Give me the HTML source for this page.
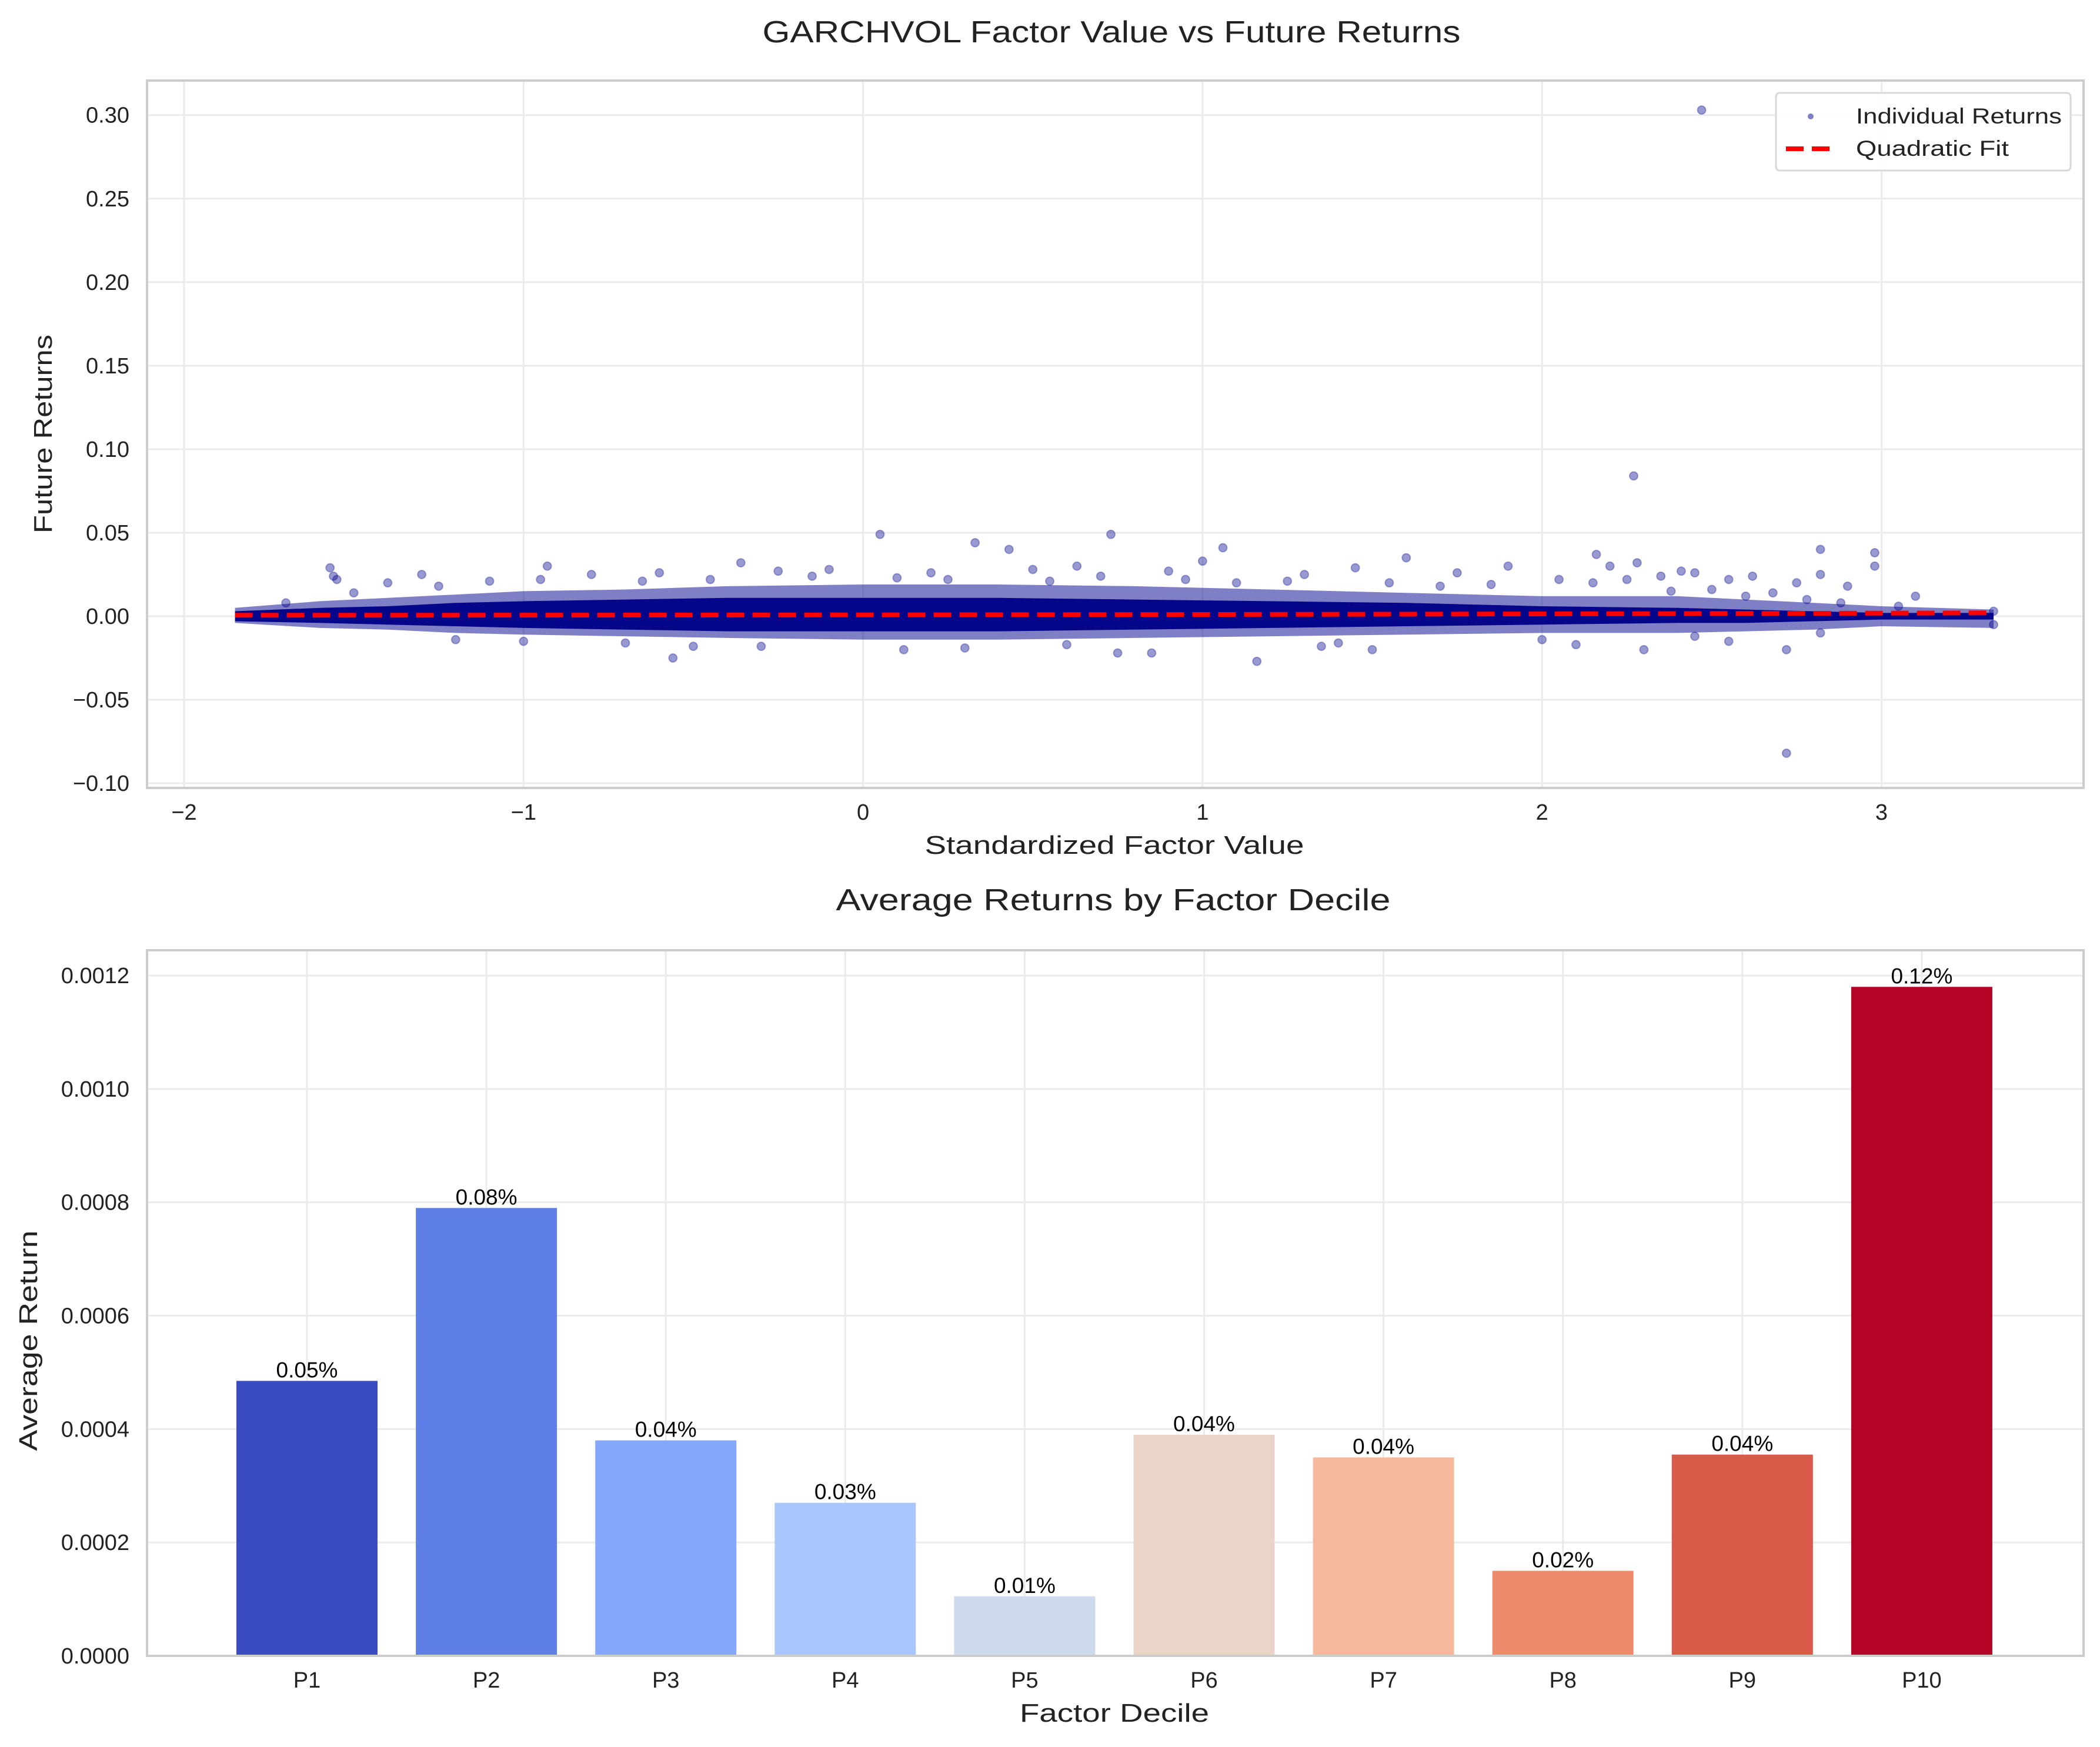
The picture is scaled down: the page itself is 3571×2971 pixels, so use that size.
<!DOCTYPE html>
<html><head><meta charset="utf-8"><style>
html,body{margin:0;padding:0;background:#fff;}
svg{display:block;font-family:"Liberation Sans",sans-serif;}
</style></head><body>
<svg id="chart" width="3571" height="2971" viewBox="0 0 3571 2971" xmlns="http://www.w3.org/2000/svg">
<text x="1890" y="72" font-size="52" fill="#222" text-anchor="middle" textLength="1187" lengthAdjust="spacingAndGlyphs">GARCHVOL Factor Value vs Future Returns</text>
<text x="1893" y="1548" font-size="52" fill="#222" text-anchor="middle" textLength="943" lengthAdjust="spacingAndGlyphs">Average Returns by Factor Decile</text>
<g id="topPanel"></g>
<g id="botPanel"></g>
</svg>
<script>
// ---- scatter data ----
const bandX = [-1.85,-1.6,-1.4,-1.2,-1.0,-0.7,-0.4,0,0.4,0.8,1.2,1.6,2.0,2.4,2.6,2.8,3.0,3.33];
const coreHi = [0.003,0.005,0.006,0.008,0.009,0.010,0.011,0.011,0.011,0.010,0.009,0.008,0.006,0.005,0.004,0.003,0.002,0.002];
const coreLo = [-0.003,-0.004,-0.005,-0.006,-0.007,-0.008,-0.009,-0.009,-0.009,-0.008,-0.007,-0.006,-0.005,-0.004,-0.004,-0.003,-0.002,-0.002];
const fringeHi = [0.005,0.009,0.011,0.013,0.015,0.016,0.018,0.019,0.019,0.018,0.016,0.014,0.012,0.012,0.010,0.008,0.006,0.004];
const fringeLo = [-0.004,-0.007,-0.008,-0.010,-0.011,-0.012,-0.013,-0.014,-0.014,-0.013,-0.012,-0.011,-0.010,-0.010,-0.009,-0.008,-0.006,-0.007];
const ptX = [2.47,2.27,2.72,0.05,0.73,0.33,1.06,2.82,2.98,2.16,-0.56,1.16,-1.57,-0.93,-0.36,1.6,2.28,2.41,-1.56,-1.55,-1.4,-1.3,-1.1,-0.8,-0.6,-0.25,-0.1,0.2,0.43,0.5,0.63,0.9,1.0,1.3,1.45,1.75,1.9,2.05,2.2,2.35,2.45,2.55,2.62,2.68,2.75,2.82,2.9,2.98,3.1,3.33,3.33,2.82,2.72,2.55,-0.5,0.12,0.85,1.5,2.1,-1.2,-0.7,0.3,0.75,1.35,2.0,2.3,
 -1.7,-1.5,-1.25,-0.95,-0.65,-0.45,-0.15,0.1,0.25,0.55,0.7,0.95,1.1,1.25,1.55,1.7,1.85,2.15,2.25,2.38,2.5,2.6,2.78,2.88,3.05,-1.0,-0.3,0.6,1.4,2.45];
const ptY = [0.303,0.084,-0.082,0.049,0.049,0.044,0.041,0.040,0.038,0.037,-0.025,-0.027,0.029,0.030,0.032,0.035,0.032,0.027,0.024,0.022,0.020,0.025,0.021,0.025,0.026,0.027,0.028,0.026,0.040,0.028,0.030,0.027,0.033,0.025,0.029,0.026,0.030,0.022,0.030,0.024,0.026,0.022,0.024,0.014,0.020,0.025,0.018,0.030,0.012,-0.005,0.003,-0.010,-0.020,-0.015,-0.018,-0.020,-0.022,-0.020,-0.017,-0.014,-0.016,-0.019,-0.022,-0.018,-0.014,-0.020,
 0.008,0.014,0.018,0.022,0.021,0.022,0.024,0.023,0.022,0.021,0.024,0.022,0.020,0.021,0.020,0.018,0.019,0.020,0.022,0.015,0.016,0.012,0.010,0.008,0.006,-0.015,-0.018,-0.017,-0.016,-0.012];
const fitCoef = [0.0008,0.0002,0.00005];
const fitRange = [-1.85,3.33];
const xTicks = [-2,-1,0,1,2,3];
const xTickLabels = ["\u22122","\u22121","0","1","2","3"];
const yTicks = [-0.10,-0.05,0,0.05,0.10,0.15,0.20,0.25,0.30];
const yTickLabels = ["\u22120.10","\u22120.05","0.00","0.05","0.10","0.15","0.20","0.25","0.30"];
// ---- bar data ----
const deciles = ["P1","P2","P3","P4","P5","P6","P7","P8","P9","P10"];
const barValues = [0.000485,0.00079,0.00038,0.00027,0.000105,0.00039,0.00035,0.00015,0.000355,0.00118];
const barLabels = ["0.05%","0.08%","0.04%","0.03%","0.01%","0.04%","0.04%","0.02%","0.04%","0.12%"];
const barColors = ["#3b4cc0","#5f7fe8","#85a8fc","#aac7fd","#cdd9ec","#ead4c8","#f6b89c","#ee8b6c","#da5a49","#b40426"];
const bTicks = [0,0.0002,0.0004,0.0006,0.0008,0.0010,0.0012];
const bTickLabels = ["0.0000","0.0002","0.0004","0.0006","0.0008","0.0010","0.0012"];

const NS="http://www.w3.org/2000/svg";
function mk(p,tag,attrs,txt){const e=document.createElementNS(NS,tag);for(const k in attrs)e.setAttribute(k,attrs[k]);if(txt!==undefined)e.textContent=txt;p.appendChild(e);return e;}

// scatter axes
const T={l:250,r:3543,t:137,b:1340};
const sx=v=>313+(v+2)*577.3;
const sy=v=>1048-v*2841;
const topG=document.getElementById('topPanel');
mk(topG,'rect',{x:T.l,y:T.t,width:T.r-T.l,height:T.b-T.t,fill:'#fff'});
xTicks.forEach((v,i)=>{
 const g=mk(topG,'line',{x1:sx(v),x2:sx(v),y1:T.t,y2:T.b,stroke:'#ebebeb','stroke-width':3});
 
 
 const t=mk(topG,'text',{x:sx(v),y:1394,'font-size':38,fill:'#222','text-anchor':'middle'},xTickLabels[i]);
 
 
});
yTicks.forEach((v,i)=>{
 const g=mk(topG,'line',{x1:T.l,x2:T.r,y1:sy(v),y2:sy(v),stroke:'#ebebeb','stroke-width':3});
 
 
 const t=mk(topG,'text',{x:220,y:sy(v)+13,'font-size':38,fill:'#222','text-anchor':'end'},yTickLabels[i]);
 
 
});
function bandPath(hi,lo){let d='';bandX.forEach((x,i)=>{d+=(i?'L':'M')+sx(x)+','+sy(hi[i]);});for(let i=bandX.length-1;i>=0;i--)d+='L'+sx(bandX[i])+','+sy(lo[i]);return d+'Z';}
const fr=mk(topG,'path',{d:bandPath(fringeHi,fringeLo),fill:'#00008b','fill-opacity':0.5});


const co=mk(topG,'path',{d:bandPath(coreHi,coreLo),fill:'#000088','fill-opacity':0.95});


ptX.forEach((x,i)=>{
 const c=mk(topG,'circle',{cx:sx(x),cy:sy(ptY[i]),r:7,fill:'#00008b','fill-opacity':0.4,stroke:'#00008b','stroke-opacity':0.3,'stroke-width':2});
 
 
});
let fd='';
for(let k=0;k<=60;k++){const x=fitRange[0]+(fitRange[1]-fitRange[0])*k/60;const y=fitCoef[0]+fitCoef[1]*x+fitCoef[2]*x*x;fd+=(k?'L':'M')+sx(x)+','+sy(y);}
const fl=mk(topG,'path',{d:fd,fill:'none',stroke:'#ff0000','stroke-width':8,'stroke-dasharray':'30 14'});


const sp=mk(topG,'rect',{x:T.l,y:T.t,width:T.r-T.l,height:T.b-T.t,fill:'none',stroke:'#cccccc','stroke-width':4});


// legend
const lg=mk(topG,'g',{});


mk(lg,'rect',{x:3020,y:158,width:501,height:132,rx:6,fill:'#fff','fill-opacity':0.9,stroke:'#d8d8d8','stroke-width':3});
mk(lg,'circle',{cx:3079,cy:198,r:5,fill:'#00008b','fill-opacity':0.5});
mk(lg,'text',{x:3156,y:210,'font-size':37,fill:'#222',textLength:350,lengthAdjust:'spacingAndGlyphs'},'Individual Returns');
mk(lg,'line',{x1:3037,x2:3112,y1:253,y2:253,stroke:'#ff0000','stroke-width':8,'stroke-dasharray':'30 14'});
mk(lg,'text',{x:3156,y:265,'font-size':37,fill:'#222',textLength:260,lengthAdjust:'spacingAndGlyphs'},'Quadratic Fit');
const xl=mk(topG,'text',{x:1895,y:1452,'font-size':44,fill:'#222','text-anchor':'middle',textLength:645,lengthAdjust:'spacingAndGlyphs'},'Standardized Factor Value');


const yl=mk(topG,'text',{x:0,y:0,'font-size':44,fill:'#222','text-anchor':'middle',transform:'translate(88,738) rotate(-90)',textLength:338,lengthAdjust:'spacingAndGlyphs'},'Future Returns');



// bar axes
const B={l:250,r:3543,t:1616,b:2816};
const bx=i=>522+305.1*i;
const by=v=>2816-v*964167;
const botG=document.getElementById('botPanel');
mk(botG,'rect',{x:B.l,y:B.t,width:B.r-B.l,height:B.b-B.t,fill:'#fff'});
deciles.forEach((d,i)=>{
 const g=mk(botG,'line',{x1:bx(i),x2:bx(i),y1:B.t,y2:B.b,stroke:'#ebebeb','stroke-width':3});
 
 
});
bTicks.forEach((v,i)=>{
 const g=mk(botG,'line',{x1:B.l,x2:B.r,y1:by(v),y2:by(v),stroke:'#ebebeb','stroke-width':3});
 
 
 const t=mk(botG,'text',{x:220,y:by(v)+13,'font-size':38,fill:'#222','text-anchor':'end'},bTickLabels[i]);
 
 
});
deciles.forEach((d,i)=>{
 const r=mk(botG,'rect',{x:bx(i)-120,y:by(barValues[i]),width:240,height:by(0)-by(barValues[i]),fill:barColors[i]});
 
 
 const t=mk(botG,'text',{x:bx(i),y:by(barValues[i])-6,'font-size':37,fill:'#000','text-anchor':'middle'},barLabels[i]);
 
 
 const xt=mk(botG,'text',{x:bx(i),y:2870,'font-size':38,fill:'#222','text-anchor':'middle'},d);
 
 
});
const bs=mk(botG,'rect',{x:B.l,y:B.t,width:B.r-B.l,height:B.b-B.t,fill:'none',stroke:'#cccccc','stroke-width':4});


const bxl=mk(botG,'text',{x:1895,y:2928,'font-size':44,fill:'#222','text-anchor':'middle',textLength:322,lengthAdjust:'spacingAndGlyphs'},'Factor Decile');


const byl=mk(botG,'text',{x:0,y:0,'font-size':44,fill:'#222','text-anchor':'middle',transform:'translate(63,2280) rotate(-90)',textLength:375,lengthAdjust:'spacingAndGlyphs'},'Average Return');


</script>
</body></html>
